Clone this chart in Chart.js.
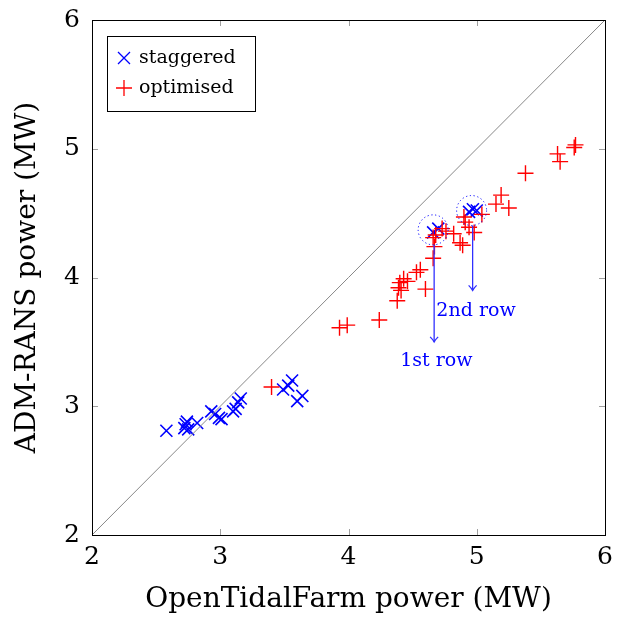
<!DOCTYPE html>
<html>
<head>
<meta charset="utf-8">
<script src="https://cdn.jsdelivr.net/npm/chart.js@4.4.1/dist/chart.umd.min.js"></script>
<style>
  body { margin: 0; background: #fff; }
  #wrap { width: 618px; height: 624px; }
</style>
</head>
<body>
<div id="wrap"><canvas id="myChart" width="618" height="624"></canvas></div>
<script>
'use strict';
// values
const staggeredX = [2.58, 2.72, 2.73, 2.75, 2.74, 2.82, 2.93, 2.96, 2.99, 3.01, 3.10, 3.12, 3.14, 3.16, 3.49, 3.53, 3.56, 3.60, 3.64, 4.66, 4.70, 4.94, 4.97, 5.00];
const staggeredY = [2.81, 2.83, 2.86, 2.82, 2.88, 2.87, 2.96, 2.94, 2.91, 2.90, 2.96, 2.98, 3.03, 3.06, 3.13, 3.16, 3.20, 3.04, 3.08, 4.35, 4.38, 4.51, 4.53, 4.52];
const optimisedX = [3.40, 3.93, 3.99, 4.24, 4.38, 4.39, 4.41, 4.40, 4.43, 4.46, 4.53, 4.56, 4.60, 4.66, 4.67, 4.66, 4.68, 4.73, 4.76, 4.82, 4.87, 4.89, 4.90, 4.91, 4.94, 4.98, 5.04, 5.15, 5.19, 5.25, 5.38, 5.63, 5.65, 5.76, 5.77];
const optimisedY = [3.15, 3.61, 3.63, 3.67, 3.82, 3.92, 3.90, 3.96, 3.99, 3.97, 4.04, 4.06, 3.91, 4.15, 4.24, 4.31, 4.33, 4.38, 4.36, 4.34, 4.27, 4.25, 4.47, 4.43, 4.39, 4.35, 4.49, 4.57, 4.64, 4.54, 4.81, 4.96, 4.90, 5.01, 5.03];
const axisTicks = [2, 3, 4, 5, 6];
const diagonal = [2, 6];
const legendOrder = ['staggered', 'optimised'];

// the two circled turbines and their arrows
const circleX = [4.66, 4.96];
const circleY = [4.37, 4.52];
const arrowEndY = [3.50, 3.90];
const rowLabels = ['1st row', '2nd row'];
const rowLabelX = [4.685, 4.685];
const rowLabelY = [3.35, 3.74];
const rowLabelAlign = ['center', 'left'];

const serif = '"DejaVu Serif", serif';

function toPoints(xs, ys) {
  let pts = [];
  for (let i = 0; i < xs.length; i++) {
    pts.push({ x: xs[i], y: ys[i] });
  }
  return pts;
}

const framePlugin = {
  id: 'frame',
  beforeDatasetsDraw(chart) {
    const ctx = chart.ctx;
    const a = chart.chartArea;
    const xs = chart.scales.x;
    const ys = chart.scales.y;
    ctx.save();
    ctx.strokeStyle = '#a0a0a0';
    ctx.lineWidth = 1;
    ctx.beginPath();
    for (let i = 0; i < axisTicks.length; i++) {
      let px = Math.round(xs.getPixelForValue(axisTicks[i])) + 0.5;
      let py = Math.round(ys.getPixelForValue(axisTicks[i])) + 0.5;
      ctx.moveTo(px, a.bottom); ctx.lineTo(px, a.bottom - 6);
      ctx.moveTo(px, a.top); ctx.lineTo(px, a.top + 6);
      ctx.moveTo(a.left, py); ctx.lineTo(a.left + 6, py);
      ctx.moveTo(a.right, py); ctx.lineTo(a.right - 6, py);
    }
    ctx.stroke();
    ctx.restore();
  },
  afterDraw(chart) {
    const ctx = chart.ctx;
    const a = chart.chartArea;
    const xs = chart.scales.x;
    const ys = chart.scales.y;
    ctx.save();
    // circles
    ctx.strokeStyle = '#0000ff';
    ctx.lineWidth = 1;
    ctx.setLineDash([1.2, 2.6]);
    for (let i = 0; i < circleX.length; i++) {
      ctx.beginPath();
      ctx.arc(xs.getPixelForValue(circleX[i]), ys.getPixelForValue(circleY[i]), 15, 0, Math.PI * 2);
      ctx.stroke();
    }
    ctx.setLineDash([]);
    // arrows
    ctx.strokeStyle = '#3030ff';
    ctx.lineWidth = 1.3;
    for (let i = 0; i < circleX.length; i++) {
      let px = xs.getPixelForValue(circleX[i]) + 1;
      let y0 = ys.getPixelForValue(circleY[i]) + 15;
      let y1 = ys.getPixelForValue(arrowEndY[i]);
      ctx.beginPath();
      ctx.moveTo(px, y0); ctx.lineTo(px, y1);
      ctx.stroke();
      ctx.beginPath();
      ctx.moveTo(px - 4, y1 - 5);
      ctx.quadraticCurveTo(px - 1, y1 - 2, px, y1);
      ctx.quadraticCurveTo(px + 1, y1 - 2, px + 4, y1 - 5);
      ctx.stroke();
    }
    // labels
    ctx.fillStyle = '#0000ff';
    ctx.font = '19px ' + serif;
    ctx.textBaseline = 'middle';
    for (let i = 0; i < rowLabels.length; i++) {
      ctx.textAlign = rowLabelAlign[i];
      ctx.fillText(rowLabels[i], xs.getPixelForValue(rowLabelX[i]), ys.getPixelForValue(rowLabelY[i]));
    }
    // frame
    ctx.strokeStyle = '#000';
    ctx.lineWidth = 1;
    ctx.strokeRect(Math.round(a.left) + 0.5, Math.round(a.top) + 0.5, Math.round(a.right - a.left), Math.round(a.bottom - a.top));
    // legend box
    let lx = a.left + 15, ly = a.top + 16, lw = 148, lh = 75;
    ctx.fillStyle = '#fff';
    ctx.fillRect(lx, ly, lw, lh);
    ctx.strokeRect(Math.round(lx) + 0.5, Math.round(ly) + 0.5, lw, lh);
    for (let i = 0; i < legendOrder.length; i++) {
      const set = chart.data.datasets.find(d => d.label === legendOrder[i]);
      let cy = ly + 22 + i * 30;
      let cx = lx + 17;
      ctx.strokeStyle = set.borderColor;
      ctx.lineWidth = 1.3;
      ctx.beginPath();
      if (set.pointStyle === 'crossRot') {
        ctx.moveTo(cx - 6, cy - 6); ctx.lineTo(cx + 6, cy + 6);
        ctx.moveTo(cx + 6, cy - 6); ctx.lineTo(cx - 6, cy + 6);
      } else {
        ctx.moveTo(cx - 8, cy); ctx.lineTo(cx + 8, cy);
        ctx.moveTo(cx, cy - 8); ctx.lineTo(cx, cy + 8);
      }
      ctx.stroke();
      ctx.fillStyle = '#000';
      ctx.font = '19px ' + serif;
      ctx.textAlign = 'left';
      ctx.textBaseline = 'middle';
      ctx.fillText(set.label, lx + 32, cy);
    }
    ctx.restore();
  }
};

let ctx = document.getElementById('myChart').getContext('2d');
let chart = new Chart(ctx, {
  type: 'scatter',
  data: {
    datasets: [{
      type: 'line',
      label: 'diagonal',
      data: toPoints(diagonal, diagonal),
      borderColor: '#888888',
      borderWidth: 1,
      pointRadius: 0,
      fill: false
    },
    {
      label: 'optimised',
      data: toPoints(optimisedX, optimisedY),
      pointStyle: 'cross',
      pointRadius: 8,
      borderColor: '#ff0000',
      backgroundColor: '#ff0000',
      borderWidth: 1.4
    },
    {
      label: 'staggered',
      data: toPoints(staggeredX, staggeredY),
      pointStyle: 'crossRot',
      pointRadius: 8.5,
      borderColor: '#0000ff',
      backgroundColor: '#0000ff',
      borderWidth: 1.6
    }]
  },
  options: {
    responsive: false,
    animation: false,
    layout: { padding: { top: 20, right: 13, left: 0, bottom: 0 } },
    plugins: { legend: { display: false }, tooltip: { enabled: false } },
    scales: {
      x: {
        type: 'linear', min: 2, max: 6,
        grid: { display: false, drawTicks: false },
        border: { display: false },
        ticks: { stepSize: 1, padding: 7, color: '#000', font: { family: serif, size: 25 } },
        title: { display: true, text: 'OpenTidalFarm power (MW)', color: '#000', padding: { top: 0, bottom: 7 }, font: { family: serif, size: 28 } },
        afterFit(scale) {
          scale.height = 89;
          scale.paddingLeft = 0;
          scale.paddingRight = 0;
        }
      },
      y: {
        type: 'linear', min: 2, max: 6,
        grid: { display: false, drawTicks: false },
        border: { display: false },
        ticks: { stepSize: 1, padding: 12, color: '#000', font: { family: serif, size: 25, lineHeight: 0.6 } },
        title: { display: true, text: 'ADM-RANS power (MW)', color: '#000', padding: { top: 11, bottom: 8 }, font: { family: serif, size: 28 } },
        afterFit(scale) {
          scale.width = 92;
          scale.paddingTop = 0;
          scale.paddingBottom = 0;
        }
      }
    }
  },
  plugins: [framePlugin]
});
</script>
</body>
</html>
